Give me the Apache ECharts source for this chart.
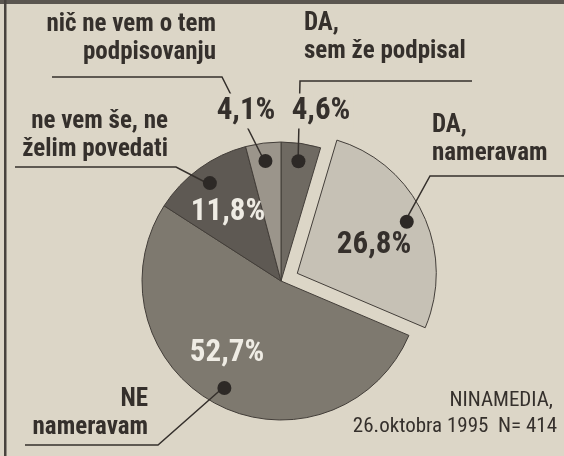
<!DOCTYPE html>
<html>
<head>
<meta charset="utf-8">
<script src="https://cdn.jsdelivr.net/npm/echarts@6/dist/echarts.min.js"></script>
<style>
  html, body { margin: 0; padding: 0; background: #dcd6c7; }
  #chart { width: 564px; height: 456px; }
</style>
</head>
<body>
<div id="chart"></div>
<script>
// anketa o podpisovanju, NINAMEDIA 26.10.1995, N = 414
const categories = ['DA, sem že podpisal', 'DA, nameravam', 'NE nameravam', 'ne vem še, ne želim povedati', 'nič ne vem o tem podpisovanju']
const values = [4.6, 26.8, 52.7, 11.8, 4.1]
const labelTexts = ['DA,\nsem že podpisal', 'DA,\nnameravam', 'NE\nnameravam', 'ne vem še, ne\nželim povedati', 'nič ne vem o tem\npodpisovanju']
const sourceLines = ['NINAMEDIA,', '26.oktobra 1995  N= 414']
const selectedIndex = 1

const paper = '#dcd6c7'
const ink = '#35302c'
const colors = ['#6f6a62', '#c6c1b5', '#7e796f', '#5e5953', '#9b958b']
const pctColors = [ink, ink, '#efece4', '#efece4', ink]
const font = "'Roboto Condensed', 'DejaVu Sans Condensed', sans-serif"

const center = [281, 281]
const R = 139
const dotR = 118
const offset = 18

// položaji oznak (px)
const pctPos = [[321, 111], [374, 245], [227, 353], [228, 212], [246, 111]]
const textPos = [
  { x: 304, y: 10, align: 'left' },
  { x: 432, y: 112, align: 'left' },
  { x: 148, y: 386, align: 'right' },
  { x: 168, y: 108, align: 'right' },
  { x: 216, y: 11, align: 'right' }
]
// [x kolena, x konca, y] podčrtaja
const underline = [[300, 472, 81], [430, 564, 176], [158, 25, 445], [176, 15, 167], [222, 52, 77]]

const data = values.map((v, i) => ({ name: categories[i], value: v, selected: i === selectedIndex }))

// zamik izvlečene rezine (za začetek črte)
const total = values.reduce((a, b) => a + b, 0)
const before = values.slice(0, selectedIndex).reduce((a, b) => a + b, 0)
const midAngle = (before + values[selectedIndex] / 2) / total * 2 * Math.PI
const shift = [offset * Math.sin(midAngle), -offset * Math.cos(midAngle)]

const chart = echarts.init(document.getElementById('chart'))

const option = {
  backgroundColor: paper,
  animation: false,
  graphic: [
    { type: 'rect', shape: { x: 0, y: 0, width: 564, height: 4 }, style: { fill: '#5b5650' } },
    { type: 'rect', shape: { x: 4, y: 0, width: 2.5, height: 456 }, style: { fill: '#48433e' } },
    {
      type: 'text',
      style: { text: sourceLines[0], x: 553, y: 390, align: 'right', verticalAlign: 'top', fill: ink, font: '21px ' + font }
    },
    {
      type: 'text',
      style: { text: sourceLines[1], x: 557, y: 416, align: 'right', verticalAlign: 'top', fill: ink, font: '21px ' + font }
    }
  ],
  series: [
    {
      // rezine
      type: 'pie',
      z: 2,
      center: center,
      radius: R,
      startAngle: 90,
      selectedMode: 'single',
      selectedOffset: offset,
      silent: true,
      emphasis: { disabled: true },
      label: { show: false },
      labelLine: { show: false },
      itemStyle: {
        color: p => colors[p.dataIndex],
        borderColor: '#433e39',
        borderWidth: 1
      },
      data: data
    },
    {
      // črte do opisov
      type: 'pie',
      z: 3,
      center: center,
      radius: dotR,
      startAngle: 90,
      silent: true,
      emphasis: { disabled: true },
      itemStyle: { color: 'rgba(0,0,0,0)' },
      label: {
        show: true,
        position: 'outside',
        formatter: p => labelTexts[p.dataIndex],
        color: ink,
        fontFamily: font,
        fontWeight: 'bold',
        fontSize: 25,
        lineHeight: 28,
        width: 200,
        overflow: 'none'
      },
      labelLine: {
        show: true,
        lineStyle: { color: ink, width: 1.5 }
      },
      labelLayout: function (params) {
        const i = params.dataIndex
        const p = textPos[i]
        const u = underline[i]
        let start = params.labelLinePoints[0]
        if (i === selectedIndex) start = [start[0] + shift[0], start[1] + shift[1]]
        return {
          x: p.x,
          y: p.y,
          align: p.align,
          verticalAlign: 'top',
          labelLinePoints: [start, [u[0], u[2]], [u[1], u[2]]]
        }
      },
      data: values.map((v, i) => ({ name: categories[i], value: v }))
    },
    {
      // pike
      type: 'pie',
      z: 3,
      center: center,
      radius: [0, dotR * 2],
      startAngle: 90,
      selectedMode: 'single',
      selectedOffset: offset,
      silent: true,
      emphasis: { disabled: true },
      itemStyle: { color: 'rgba(0,0,0,0)' },
      label: {
        show: true,
        position: 'inside',
        formatter: ' ',
        width: 14,
        height: 14,
        padding: 0,
        borderRadius: 7,
        backgroundColor: '#2d2926'
      },
      labelLine: { show: false },
      data: data
    },
    {
      // odstotki
      type: 'pie',
      z: 4,
      center: center,
      radius: R,
      startAngle: 90,
      silent: true,
      emphasis: { disabled: true },
      itemStyle: { color: 'rgba(0,0,0,0)' },
      label: {
        show: true,
        position: 'inside',
        formatter: p => p.value.toFixed(1).replace('.', ',') + '%',
        fontFamily: font,
        fontWeight: 'bold',
        fontSize: 31
      },
      labelLine: { show: false },
      labelLayout: function (params) {
        const pos = pctPos[params.dataIndex]
        return { x: pos[0], y: pos[1], align: 'center', verticalAlign: 'middle' }
      },
      data: values.map((v, i) => ({
        name: categories[i],
        value: v,
        label: {
          color: pctColors[i],
          backgroundColor: (i === 0 || i === 4) ? paper : 'transparent',
          padding: [2, 3]
        }
      }))
    }
  ]
}

chart.setOption(option)
</script>
</body>
</html>
